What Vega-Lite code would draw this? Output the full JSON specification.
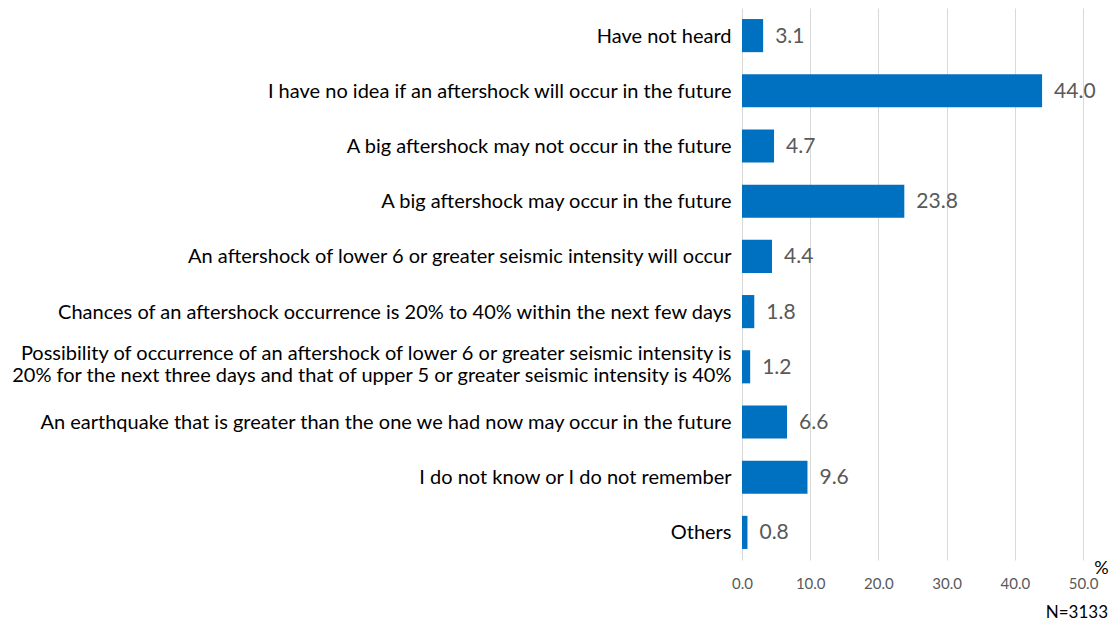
{
  "$schema": "https://vega.github.io/schema/vega-lite/v6.json",
  "width": 341,
  "height": 552,
  "autosize": {"type": "none"},
  "padding": {"left": 742, "top": 8, "right": 31, "bottom": 68},
  "background": "white",
  "config": {"view": {"stroke": null}, "font": "Lato"},
  "title": {
    "text": "N=3133",
    "orient": "bottom",
    "anchor": "end",
    "frame": "group",
    "dx": 25,
    "offset": 14,
    "fontSize": 17,
    "fontWeight": "normal",
    "font": "Lato",
    "color": "#000000"
  },
  "data": {
    "values": [
      {"label": "Have not heard", "value": 3.1},
      {"label": "I have no idea if  an aftershock will occur in the future", "value": 44.0},
      {"label": "A big aftershock may not occur in the future", "value": 4.7},
      {"label": "A big aftershock may occur in the future", "value": 23.8},
      {"label": "An aftershock of lower 6 or greater seismic intensity will occur", "value": 4.4},
      {"label": "Chances of an aftershock occurrence is 20% to 40% within the next few days", "value": 1.8},
      {"label": "Possibility of occurrence of an aftershock of lower 6 or greater seismic intensity is\n20% for the next three days and that of upper 5 or greater seismic intensity is 40%", "value": 1.2},
      {"label": "An earthquake that is greater than the one we had now may occur in the future", "value": 6.6},
      {"label": "I do not know or I do not remember", "value": 9.6},
      {"label": "Others", "value": 0.8}
    ]
  },
  "encoding": {
    "y": {
      "field": "label",
      "type": "nominal",
      "sort": null,
      "scale": {"paddingInner": 0.4, "paddingOuter": 0.2},
      "axis": {
        "title": null,
        "domain": false,
        "ticks": false,
        "labelPadding": 11,
        "labelFontSize": 20,
        "labelColor": "#000000",
        "labelLimit": 800,
        "labelLineHeight": 22,
        "labelOffset": {"condition": {"test": "indexof(datum.value, '\\n') >= 0", "value": -13}, "value": 1},
        "labelExpr": "split(datum.value, '\\n')"
      }
    },
    "x": {
      "field": "value",
      "type": "quantitative",
      "scale": {"domain": [0, 50]},
      "axis": {
        "values": [0, 10, 20, 30, 40, 50],
        "format": ".1f",
        "domain": false,
        "ticks": false,
        "grid": true,
        "gridColor": "#d9d9d9",
        "labelFlush": false,
        "labelFontSize": 15,
        "labelColor": "#595959",
        "labelPadding": 16,
        "title": "%",
        "titleFontSize": 18,
        "titleFontWeight": "normal",
        "titleColor": "#000000",
        "titleX": 359,
        "titleY": 13,
        "titleAlign": "center",
        "titleBaseline": "alphabetic"
      }
    }
  },
  "layer": [
    {"mark": {"type": "bar", "color": "#0070C0"}},
    {
      "mark": {"type": "text", "align": "left", "baseline": "middle", "dx": 12, "dy": 1, "fontSize": 21, "color": "#595959"},
      "encoding": {"text": {"field": "value", "type": "quantitative", "format": ".1f"}}
    }
  ]
}
